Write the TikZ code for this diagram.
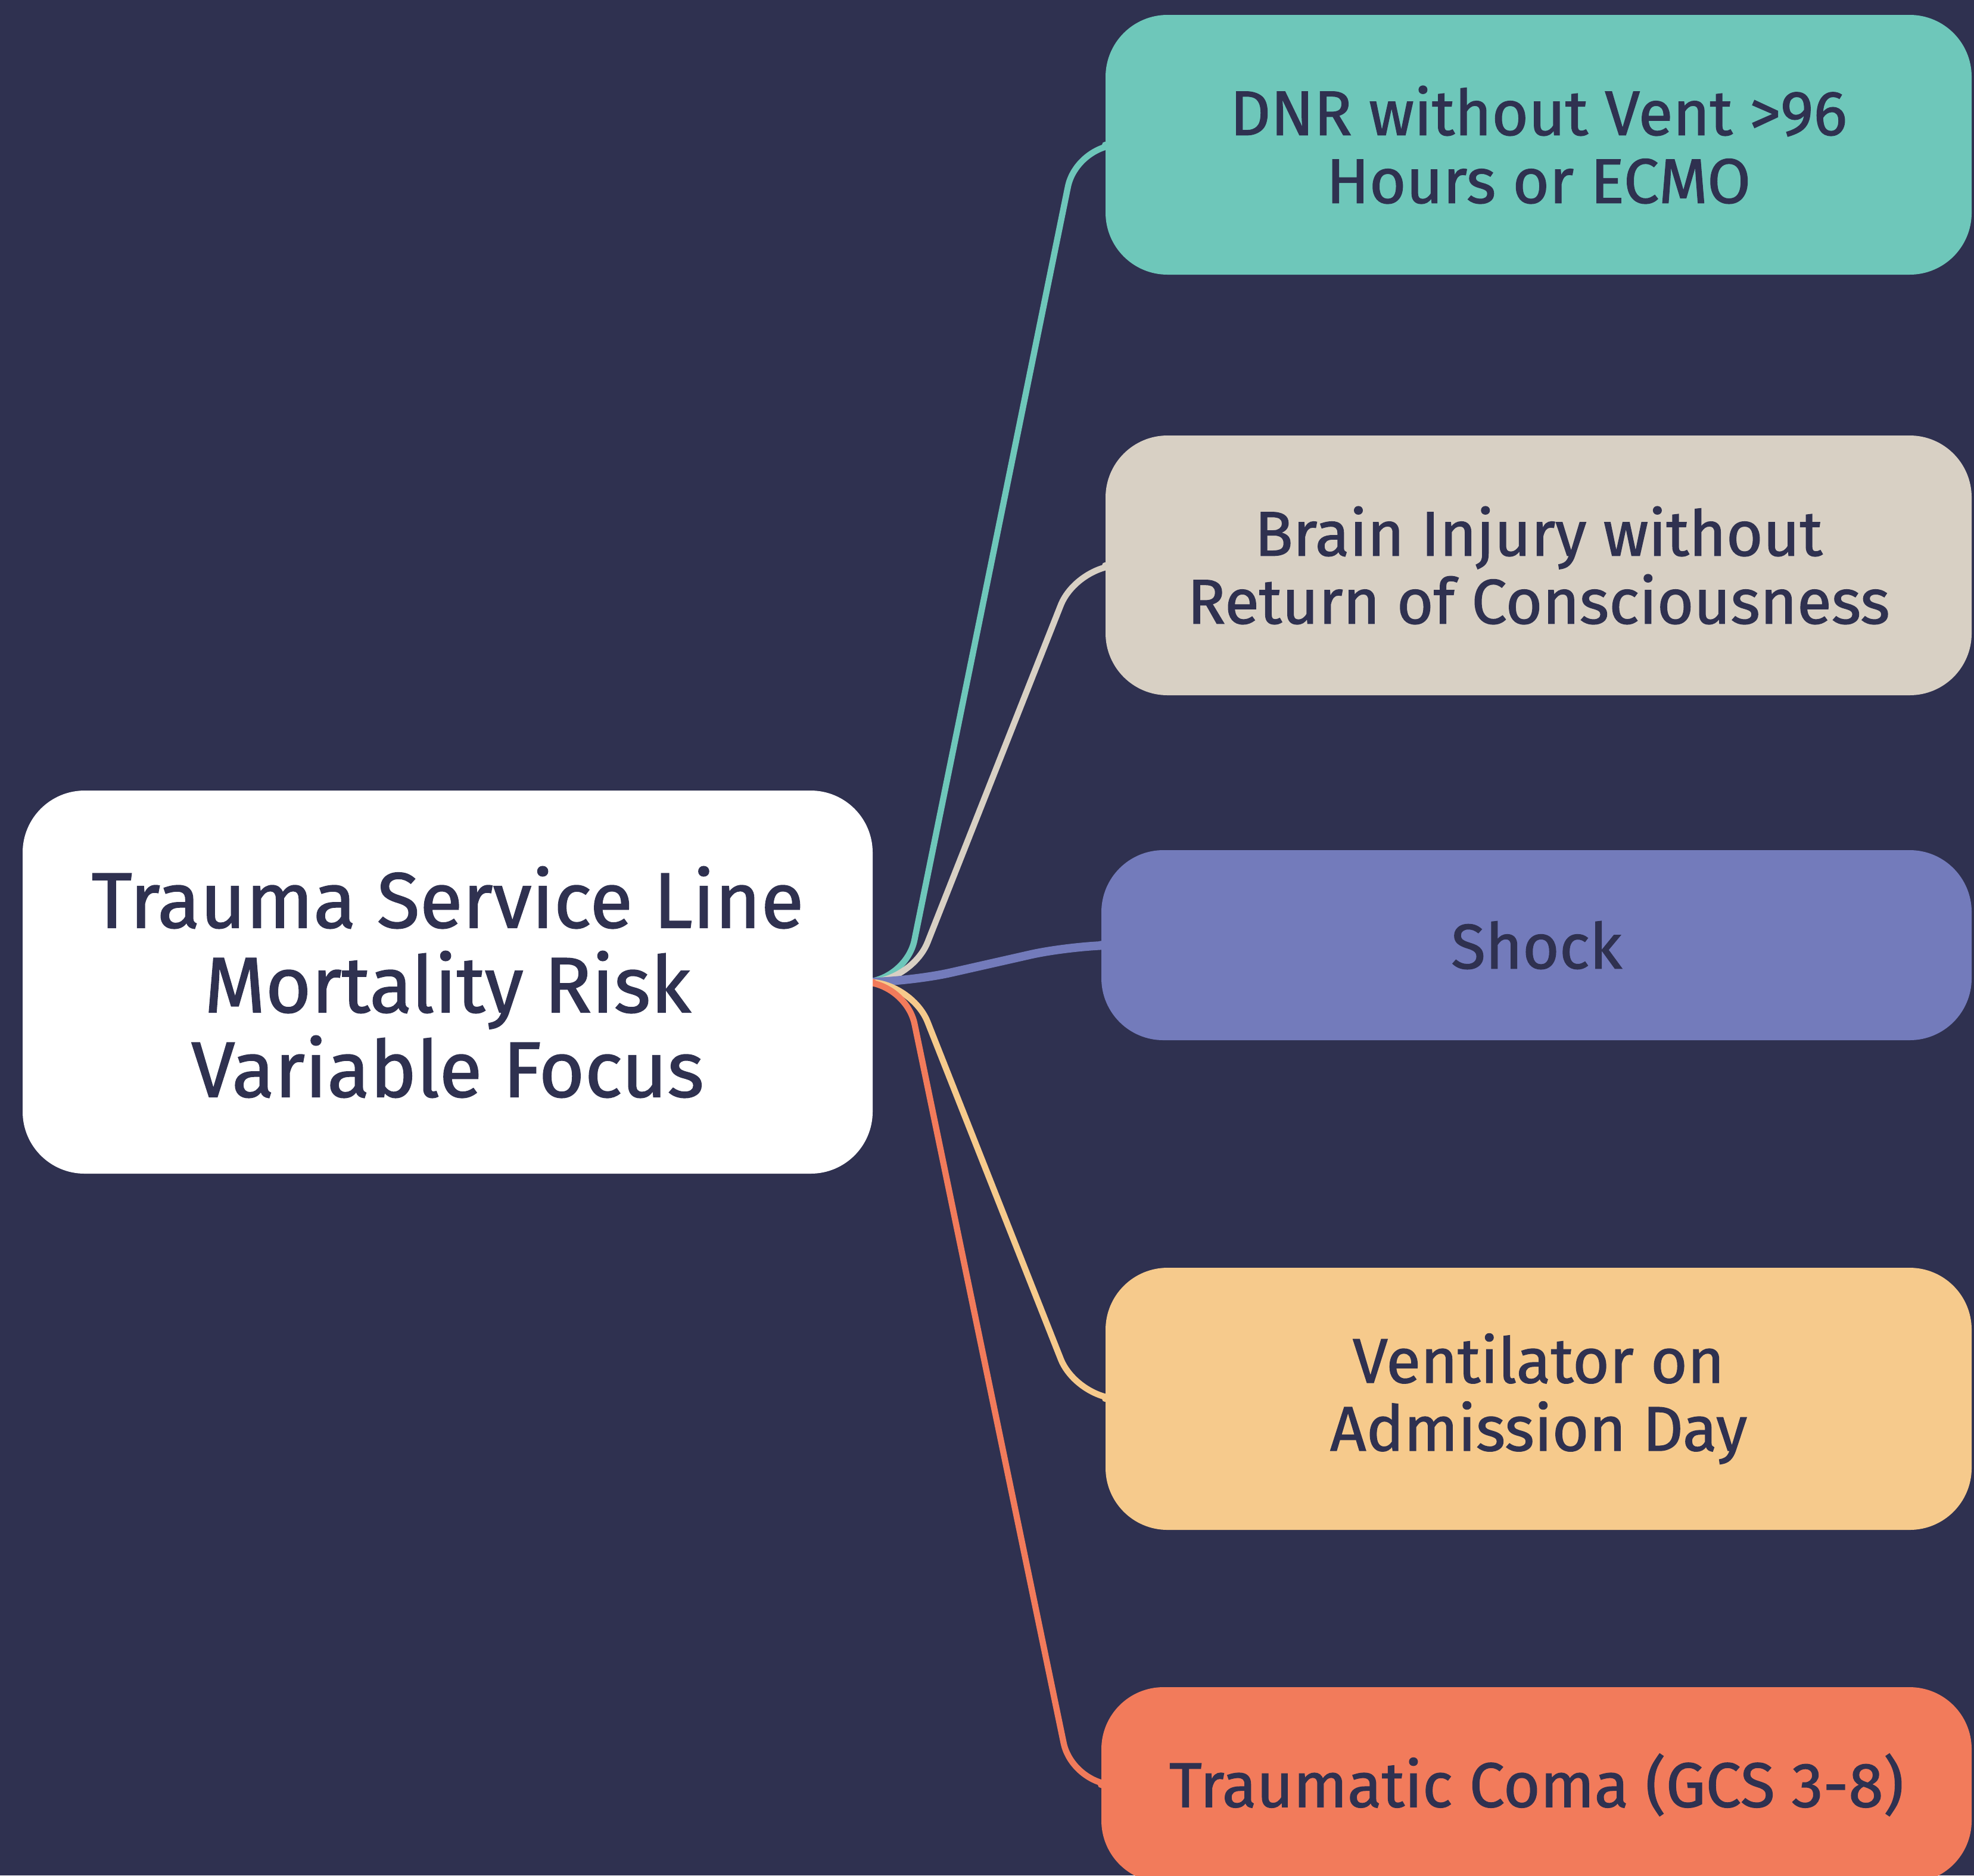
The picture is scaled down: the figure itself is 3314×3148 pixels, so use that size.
\documentclass[tikz,border=0pt]{standalone}
\usepackage{fontspec}
\setmainfont{Fira Sans}[FakeBold=1.2, AutoFakeBold=1.2]
\usetikzlibrary{backgrounds}
\definecolor{bgc}{HTML}{2F3150}
\definecolor{txt}{HTML}{2F3150}
\definecolor{cteal}{HTML}{6EC7BA}
\definecolor{cbeige}{HTML}{D8D0C4}
\definecolor{cpurple}{HTML}{737BBB}
\definecolor{cyellow}{HTML}{F6CA8C}
\definecolor{corange}{HTML}{F27B5B}
\tikzset{
  box/.style={rounded corners=26pt, align=center, text=txt, inner sep=0pt, font=\fontsize{26.5}{28.5}\selectfont\bfseries},
  rootbox/.style={box, fill=white, minimum width=356.75pt, minimum height=160.75pt, font=\fontsize{33}{35.5}\selectfont\bfseries},
  leaf/.style={box, minimum width=363.5pt},
  conn/.style={line width=2.6pt, rounded corners=18pt, line cap=round}
}
\begin{document}
\begin{tikzpicture}[x=0.25pt,y=-0.25pt]
\useasboundingbox (0,0) rectangle (3314,3148);
\begin{scope}[on background layer]
\fill[bgc] (0,0) rectangle (3314,3148);
\end{scope}
\node[rootbox] (root) at (751.5,1648.5) {Trauma Service Line\\Mortality Risk\\Variable Focus};
\node[leaf, fill=cteal, minimum height=109pt] (dnr) at (2583,243) {DNR without Vent >96\\Hours or ECMO};
\node[leaf, fill=cbeige, minimum height=109pt] (brain) at (2583,949) {Brain Injury without\\Return of Consciousness};
\node[leaf, fill=cpurple, minimum width=365.25pt, minimum height=79.75pt] (shock) at (2579.5,1586.5) {Shock};
\node[leaf, fill=cyellow, minimum height=110pt] (vent) at (2583,2348) {Ventilator on\\Admission Day};
\node[leaf, fill=corange, minimum width=365.25pt, minimum height=82pt] (coma) at (2579.5,2996) {Traumatic Coma (GCS 3-8)};
\begin{scope}[on background layer]
\draw[conn, cteal] (root.east) -- ++(55,0) -- ([xshift=-12pt]dnr.west) -- (dnr.west);
\draw[conn, cbeige] (root.east) -- ++(65,0) -- ([xshift=-12pt]brain.west) -- (brain.west);
\draw[conn, cpurple, line width=3.6pt] (root.east) -- ++(60,0) -- ([xshift=-12pt]shock.west) -- (shock.west);
\draw[conn, cyellow] (root.east) -- ++(65,0) -- ([xshift=-12pt]vent.west) -- (vent.west);
\draw[conn, corange] (root.east) -- ++(55,0) -- ([xshift=-12pt]coma.west) -- (coma.west);
\end{scope}
\end{tikzpicture}
\end{document}
